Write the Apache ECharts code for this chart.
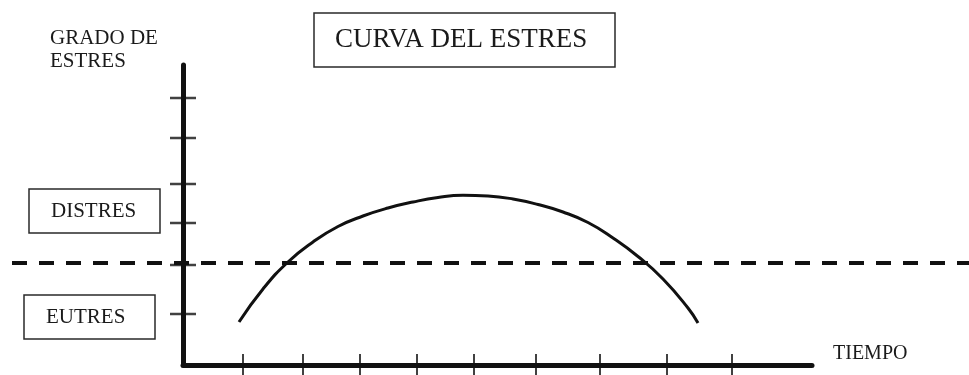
<!DOCTYPE html>
<html>
<head>
<meta charset="utf-8">
<script src="https://cdn.jsdelivr.net/npm/echarts@6/dist/echarts.min.js"></script>
<style>
html,body{margin:0;padding:0;background:#ffffff;}
#chart{width:969px;height:375px;}
</style>
</head>
<body>
<div id="chart"></div>
<script>
const titleText = 'CURVA DEL ESTRES';
const yAxisTitle = 'GRADO DE\nESTRES';
const xAxisTitle = 'TIEMPO';
const upperZoneLabel = 'DISTRES';
const lowerZoneLabel = 'EUTRES';

const timeMax = 629;
const stressMax = 300;
const timeTicks = [60, 120, 177, 234, 291, 353, 417, 484, 549];
const stressTicks = [51, 100, 142, 181, 227, 267];
const thresholdStress = 102;

const curveTime   = [56, 80, 105, 130, 155, 180, 205, 230, 255, 280, 305, 330, 355, 380, 405, 430, 455, 480, 505, 515];
const curveStress = [43, 76, 103, 123, 138.5, 149, 157, 163, 167.5, 169.7, 169, 166, 160.5, 153, 142.5, 127, 108.5, 86, 57, 42];

const SERIF = '"Liberation Serif", "DejaVu Serif", serif';
const INK = '#1a1a1a';

const chart = echarts.init(document.getElementById('chart'), null, {renderer: 'canvas'});

const curveData = curveTime.map((t, i) => [t, curveStress[i]]);
const xTickData = timeTicks.map(t => [t, 0]);
const yTickData = stressTicks.map(s => [0, s]);

function boxTitle(text, left, top, fontSize, lineHeight, padding) {
  return {
    text: text,
    left: left,
    top: top,
    padding: padding,
    borderColor: '#2a2a2a',
    borderWidth: 1.5,
    textStyle: {
      fontFamily: SERIF,
      fontWeight: 'normal',
      fontSize: fontSize,
      lineHeight: lineHeight,
      color: INK
    }
  };
}

const option = {
  backgroundColor: '#ffffff',
  animation: false,
  title: [
    boxTitle(titleText, 314, 13, 27, 30, [12, 28, 12, 21]),
    boxTitle(upperZoneLabel, 29, 189, 21, 24, [10, 24, 10, 22]),
    boxTitle(lowerZoneLabel, 24, 295, 21, 24, [10, 30, 10, 22]),
    {
      text: yAxisTitle, left: 50, top: 27, padding: 0,
      textStyle: {fontFamily: SERIF, fontWeight: 'normal', fontSize: 21, lineHeight: 23, color: INK}
    },
    {
      text: xAxisTitle, left: 833, top: 344, padding: 0,
      textStyle: {fontFamily: SERIF, fontWeight: 'normal', fontSize: 20, lineHeight: 20, color: INK}
    }
  ],
  grid: [
    {left: 183, right: 157, top: 65, bottom: 10, containLabel: false},
    {left: 12, right: 0, top: 65, bottom: 10, containLabel: false}
  ],
  xAxis: [
    {
      type: 'value', gridIndex: 0, min: 0, max: timeMax,
      axisLine: {show: true, onZero: false, lineStyle: {color: '#111', width: 5}},
      axisTick: {show: false}, axisLabel: {show: false}, splitLine: {show: false}
    },
    {type: 'value', gridIndex: 1, min: 0, max: 1, show: false}
  ],
  yAxis: [
    {
      type: 'value', gridIndex: 0, min: 0, max: stressMax,
      axisLine: {show: true, onZero: false, lineStyle: {color: '#111', width: 5}},
      axisTick: {show: false}, axisLabel: {show: false}, splitLine: {show: false}
    },
    {type: 'value', gridIndex: 1, min: 0, max: stressMax, show: false}
  ],
  series: [
    {
      name: 'umbral',
      type: 'line',
      xAxisIndex: 1, yAxisIndex: 1,
      data: [[0, thresholdStress], [1, thresholdStress]],
      showSymbol: false,
      silent: true,
      z: 4,
      lineStyle: {color: '#111', width: 4, type: [15, 12], cap: 'butt'}
    },
    {
      name: 'curva',
      type: 'line',
      data: curveData,
      smooth: 0.5,
      showSymbol: false,
      silent: true,
      z: 5,
      lineStyle: {color: '#111', width: 3}
    },
    {
      name: 'marcas tiempo',
      type: 'scatter',
      data: xTickData,
      symbol: 'rect',
      symbolSize: [2, 22],
      clip: false,
      silent: true,
      z: 6,
      itemStyle: {color: '#111'}
    },
    {
      name: 'marcas estres',
      type: 'scatter',
      data: yTickData,
      symbol: 'rect',
      symbolSize: [26, 2.5],
      clip: false,
      silent: true,
      z: 6,
      itemStyle: {color: '#111'}
    }
  ]
};

chart.setOption(option);
</script>
</body>
</html>
